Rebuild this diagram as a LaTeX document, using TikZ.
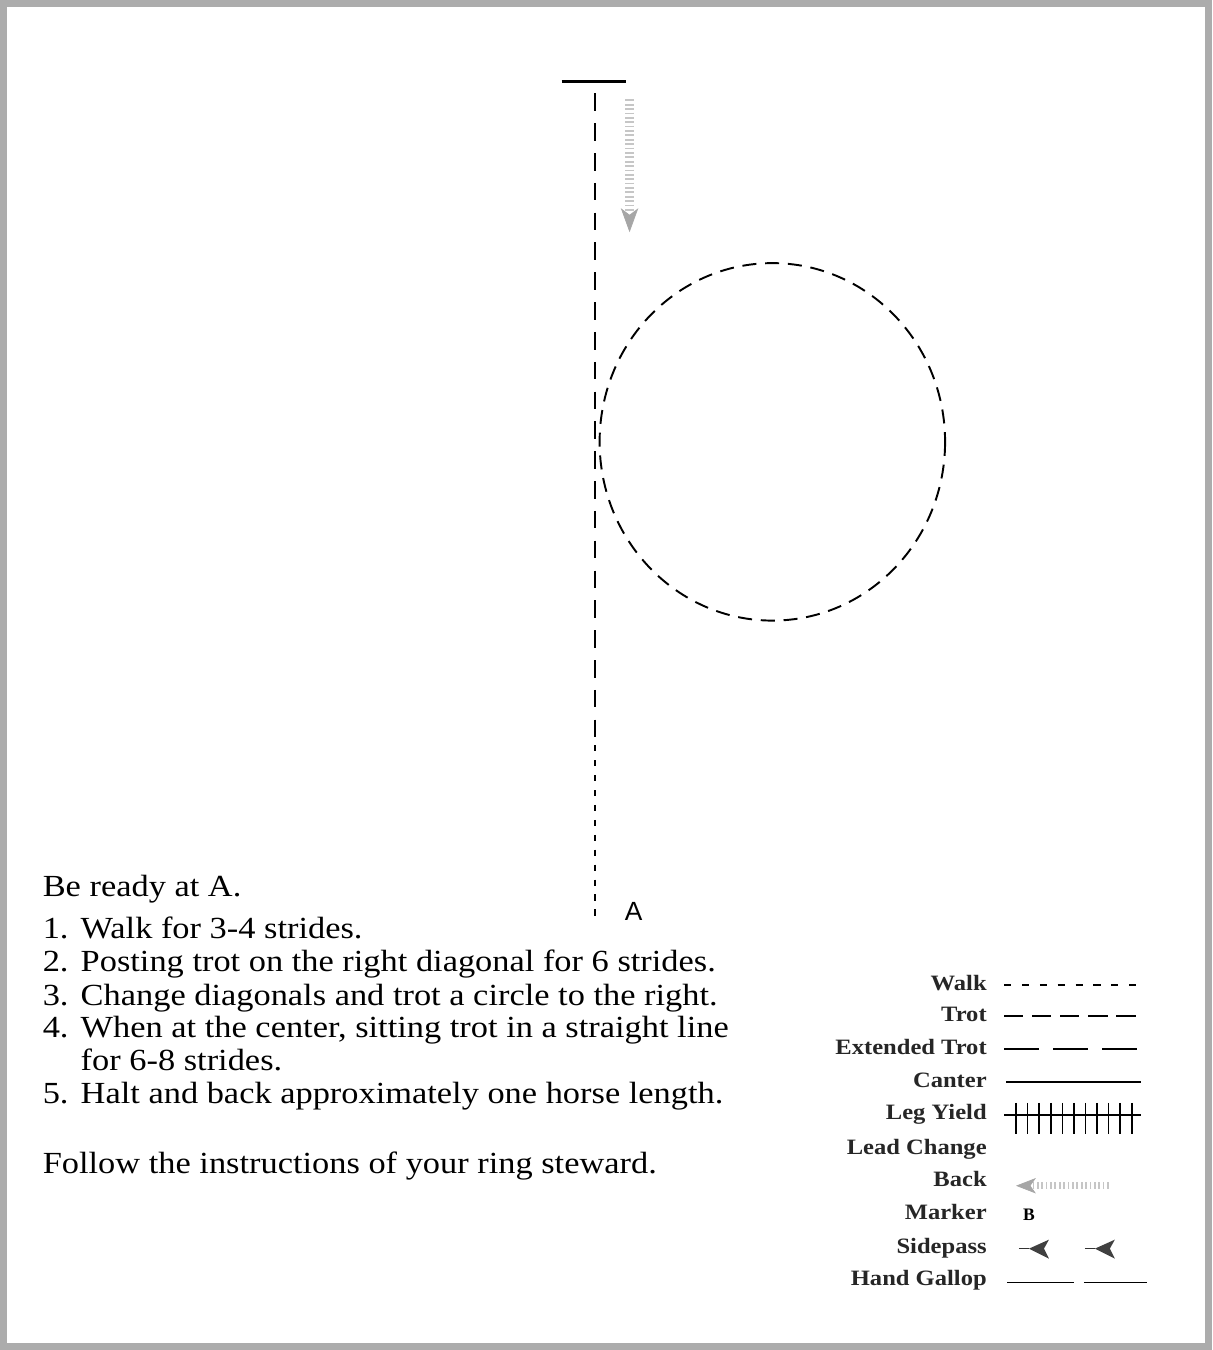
\documentclass[tikz,border=0pt]{standalone}
\usepackage{fontspec}
\setmainfont{Liberation Serif}
\newfontfamily\instrfont[FakeStretch=1.12]{Liberation Serif}
\newfontfamily\markfont{Liberation Sans}
\usetikzlibrary{arrows.meta,positioning}
\tikzset{
  walkline/.style={line width=1.2pt,dash pattern=on 3.5pt off 5pt},
  trotline/.style={line width=1.2pt,dash pattern=on 10pt off 7pt},
  circline/.style={line width=1.1pt,dash pattern=on 8pt off 5pt},
  lgwalk/.style={line width=1pt,dash pattern=on 4pt off 6.2pt},
  lgtrot/.style={line width=1pt,dash pattern=on 11pt off 5pt},
  lgext/.style={line width=1pt,dash pattern=on 20pt off 8pt},
  lgsolid/.style={line width=1pt},
  backarr/.style={gray!45,line width=5pt,dash pattern=on 1pt off 1.5pt},
  backtip/.style={fill=gray!70,draw=gray!70},
  instr/.style={anchor=base west,inner sep=0pt,font=\instrfont\fontsize{17.5}{20}\selectfont},
  lgtext/.style={anchor=base east,inner sep=0pt,font=\instrfont\fontsize{12.5}{14}\selectfont\bfseries,text=black!85}
}
\begin{document}
\begin{tikzpicture}[x=0.02cm,y=-0.02cm]
% page and frame
\fill[white] (0,0) rectangle (1214,1350);
\draw[gray!65,line width=4pt] (3,2) rectangle (1210,1347);
% arena pattern
\coordinate (halt) at (595,80);
\coordinate (top) at (595,92);
\coordinate (mid) at (595,730);
\coordinate (markA) at (595,920);
\draw[line width=1.3pt] (562,80) -- (626,80);
\draw[trotline] (top) -- (mid);
\draw[walkline] (mid) -- (markA);
\draw[circline] (773,441) ellipse [x radius=173,y radius=179];
\node[font=\markfont\fontsize{15}{15}\selectfont,anchor=base] (A) at (634,920) {A};
% backing arrow
\coordinate (bk0) at (630,98);
\coordinate (bk1) at (630,212);
\draw[backarr] (bk0) -- (bk1);
\fill[backtip] (630,230) -- (622,208) -- (630,214) -- (638,208) -- cycle;
% instructions
\node[instr] (ready) at (42,896) {Be ready at A.};
\node[instr] (n1) at (42,938) {1.};
\node[instr] (s1) at (80,938) {Walk for 3-4 strides.};
\node[instr] (n2) at (42,971) {2.};
\node[instr] (s2) at (80,971) {Posting trot on the right diagonal for 6 strides.};
\node[instr] (n3) at (42,1005) {3.};
\node[instr] (s3) at (80,1005) {Change diagonals and trot a circle to the right.};
\node[instr] (n4) at (42,1038) {4.};
\node[instr] (s4) at (80,1038) {When at the center, sitting trot in a straight line};
\node[instr] (s4b) at (80,1071) {for 6-8 strides.};
\node[instr] (n5) at (42,1104) {5.};
\node[instr] (s5) at (80,1104) {Halt and back approximately one horse length.};
\node[instr] (follow) at (42,1174) {Follow the instructions of your ring steward.};
% legend
\foreach \y/\txt/\nm in {990/Walk/lwalk,1022/Trot/ltrot,1055/Extended Trot/lext,
  1088/Canter/lcant,1120/Leg Yield/lleg,1155/Lead Change/llead,1187/Back/lback,
  1220/Marker/lmark,1254/Sidepass/lside,1286/Hand Gallop/lgal}
  \node[lgtext] (\nm) at (988,\y) {\txt};
\draw[lgwalk] (1005,985) -- (1145,985);
\draw[lgtrot] (1005,1016) -- (1138,1016);
\draw[lgext] (1005,1049) -- (1140,1049);
\draw[lgsolid] (1007,1082) -- (1142,1082);
\draw[lgsolid] (1005,1115) -- (1142,1115);
\foreach \i in {0,...,10}
  \draw[line width=0.9pt] ({1017+11.6*\i},1103) -- ({1017+11.6*\i},1134);
\draw[backarr,line width=4pt] (1110,1186) -- (1034,1186);
\fill[backtip] (1018,1186) -- (1036,1179) -- (1031,1186) -- (1036,1193) -- cycle;
\node[font=\fontsize{10}{10}\selectfont\bfseries,anchor=base] (lgB) at (1030,1221) {B};
\foreach \x in {1030,1096}{
  \draw[black!80,line width=0.8pt] ({\x-10},1249) -- (\x,1249);
  \fill[black!75] (\x,1249) -- ({\x+20},1240) -- ({\x+15},1249) -- ({\x+20},1259) -- cycle;
}
\draw[lgsolid] (1008,1283) -- (1075,1283);
\draw[lgsolid] (1085,1283) -- (1148,1283);
\end{tikzpicture}
\end{document}
